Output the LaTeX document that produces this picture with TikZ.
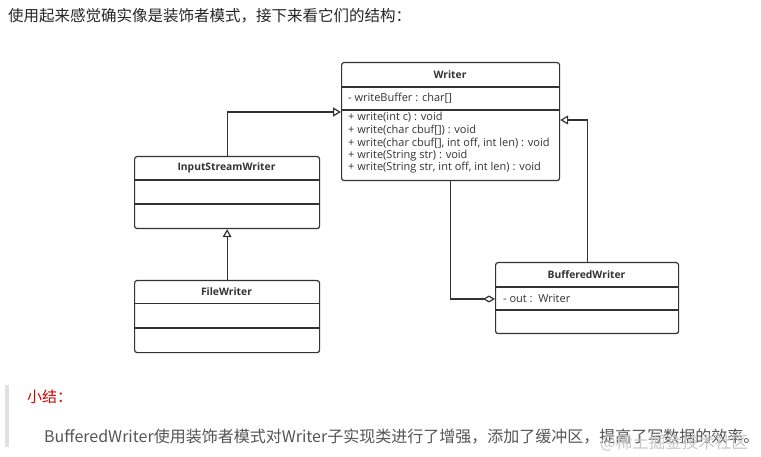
\documentclass[tikz,border=0pt]{standalone}
\usepackage{fontspec}
\setmainfont{Open Sans}
\newfontfamily\cjk{Noto Sans CJK SC}
\usetikzlibrary{arrows.meta}
\definecolor{ln}{HTML}{333333}
\definecolor{tx}{HTML}{333333}
\definecolor{bt}{HTML}{555555}
\definecolor{red1}{HTML}{D00000}
\begin{document}
\begin{tikzpicture}[x=1pt,y=-1pt,
  umlbox/.style={draw=ln, line width=1.2pt, rounded corners=2.5pt, anchor=north west, inner sep=0pt},
  sep/.style={draw=ln, line width=1.2pt},
  ttl/.style={font=\fontsize{10.3}{12}\selectfont\bfseries, text=tx, inner sep=0pt},
  mem/.style={font=\fontsize{11}{13}\selectfont, text=tx, inner sep=0pt, anchor=west},
  gen/.style={draw=ln, line width=1.2pt, -{Triangle[open, length=8pt, width=9pt]}},
  agg/.style={draw=ln, line width=1.2pt, -{Diamond[open, length=12pt, width=7pt]}}]
\useasboundingbox[fill=white] (0,0) rectangle (761,457);
% header text
\node[anchor=west, inner sep=0pt, font=\cjk\fontsize{15.5}{18}\selectfont, text=black!85] (head) at (8,16) {使用起来感觉确实像是装饰者模式，接下来看它们的结构：};
% Writer
\node[umlbox, minimum width=218pt, minimum height=118pt] (writer) at (341,62) {};
\draw[sep] (341,87) -- (559,87);
\draw[sep] (341,110) -- (559,110);
\node[ttl] (wt) at (450,74.5) {Writer};
\node[mem] (wa) at (348,98) {- writeBuffer : char[]};
\node[mem] (wm1) at (348,117) {+ write(int c) : void};
\node[mem] (wm2) at (348,130) {+ write(char cbuf[]) : void};
\node[mem] (wm3) at (348,143) {+ write(char cbuf[], int off, int len) : void};
\node[mem] (wm4) at (348,155.5) {+ write(String str) : void};
\node[mem] (wm5) at (348,168) {+ write(String str, int off, int len) : void};
% InputStreamWriter
\node[umlbox, minimum width=185pt, minimum height=72pt] (isw) at (134,156) {};
\draw[sep] (134,180) -- (319,180);
\draw[sep] (134,204) -- (319,204);
\node[ttl] (iswt) at (226.5,168) {InputStreamWriter};
% FileWriter
\node[umlbox, minimum width=185pt, minimum height=72pt] (fw) at (134,280) {};
\draw[sep] (134,303.5) -- (319,303.5);
\draw[sep] (134,328) -- (319,328);
\node[ttl] (fwt) at (226.5,291.5) {FileWriter};
% BufferedWriter
\node[umlbox, minimum width=183pt, minimum height=71pt] (bw) at (495,262) {};
\draw[sep] (495,287) -- (678,287);
\draw[sep] (495,310) -- (678,310);
\node[ttl] (bwt) at (586.5,274.5) {BufferedWriter};
\node[mem] (bwa) at (503,299) {- out :\ \ Writer};
% connectors
\draw[gen] (isw.north) |- ([yshift=-50pt]writer.north west);
\draw[gen] (fw.north) -- (isw.south);
\draw[gen] (bw.north) |- ([yshift=-58pt]writer.north east);
\draw[agg] (writer.south) |- ([yshift=-37pt]bw.north west);
% bottom quote
\fill[black!12] (5,385) rectangle (8.5,447);
\node[anchor=west, inner sep=0pt, font=\cjk\fontsize{15}{18}\selectfont, text=red1] (sum) at (27,397) {小结：};
\node[anchor=west, inner sep=0pt, font=\cjk\fontsize{16}{19}\selectfont, text=bt] (body) at (44,437) {BufferedWriter使用装饰者模式对Writer子实现类进行了增强，添加了缓冲区，提高了写数据的效率。};
\node[anchor=west, inner sep=0pt, font=\cjk\fontsize{16.5}{19}\selectfont, text=black!22] (wm) at (600,443) {@稀土掘金技术社区};
\end{tikzpicture}
\end{document}
